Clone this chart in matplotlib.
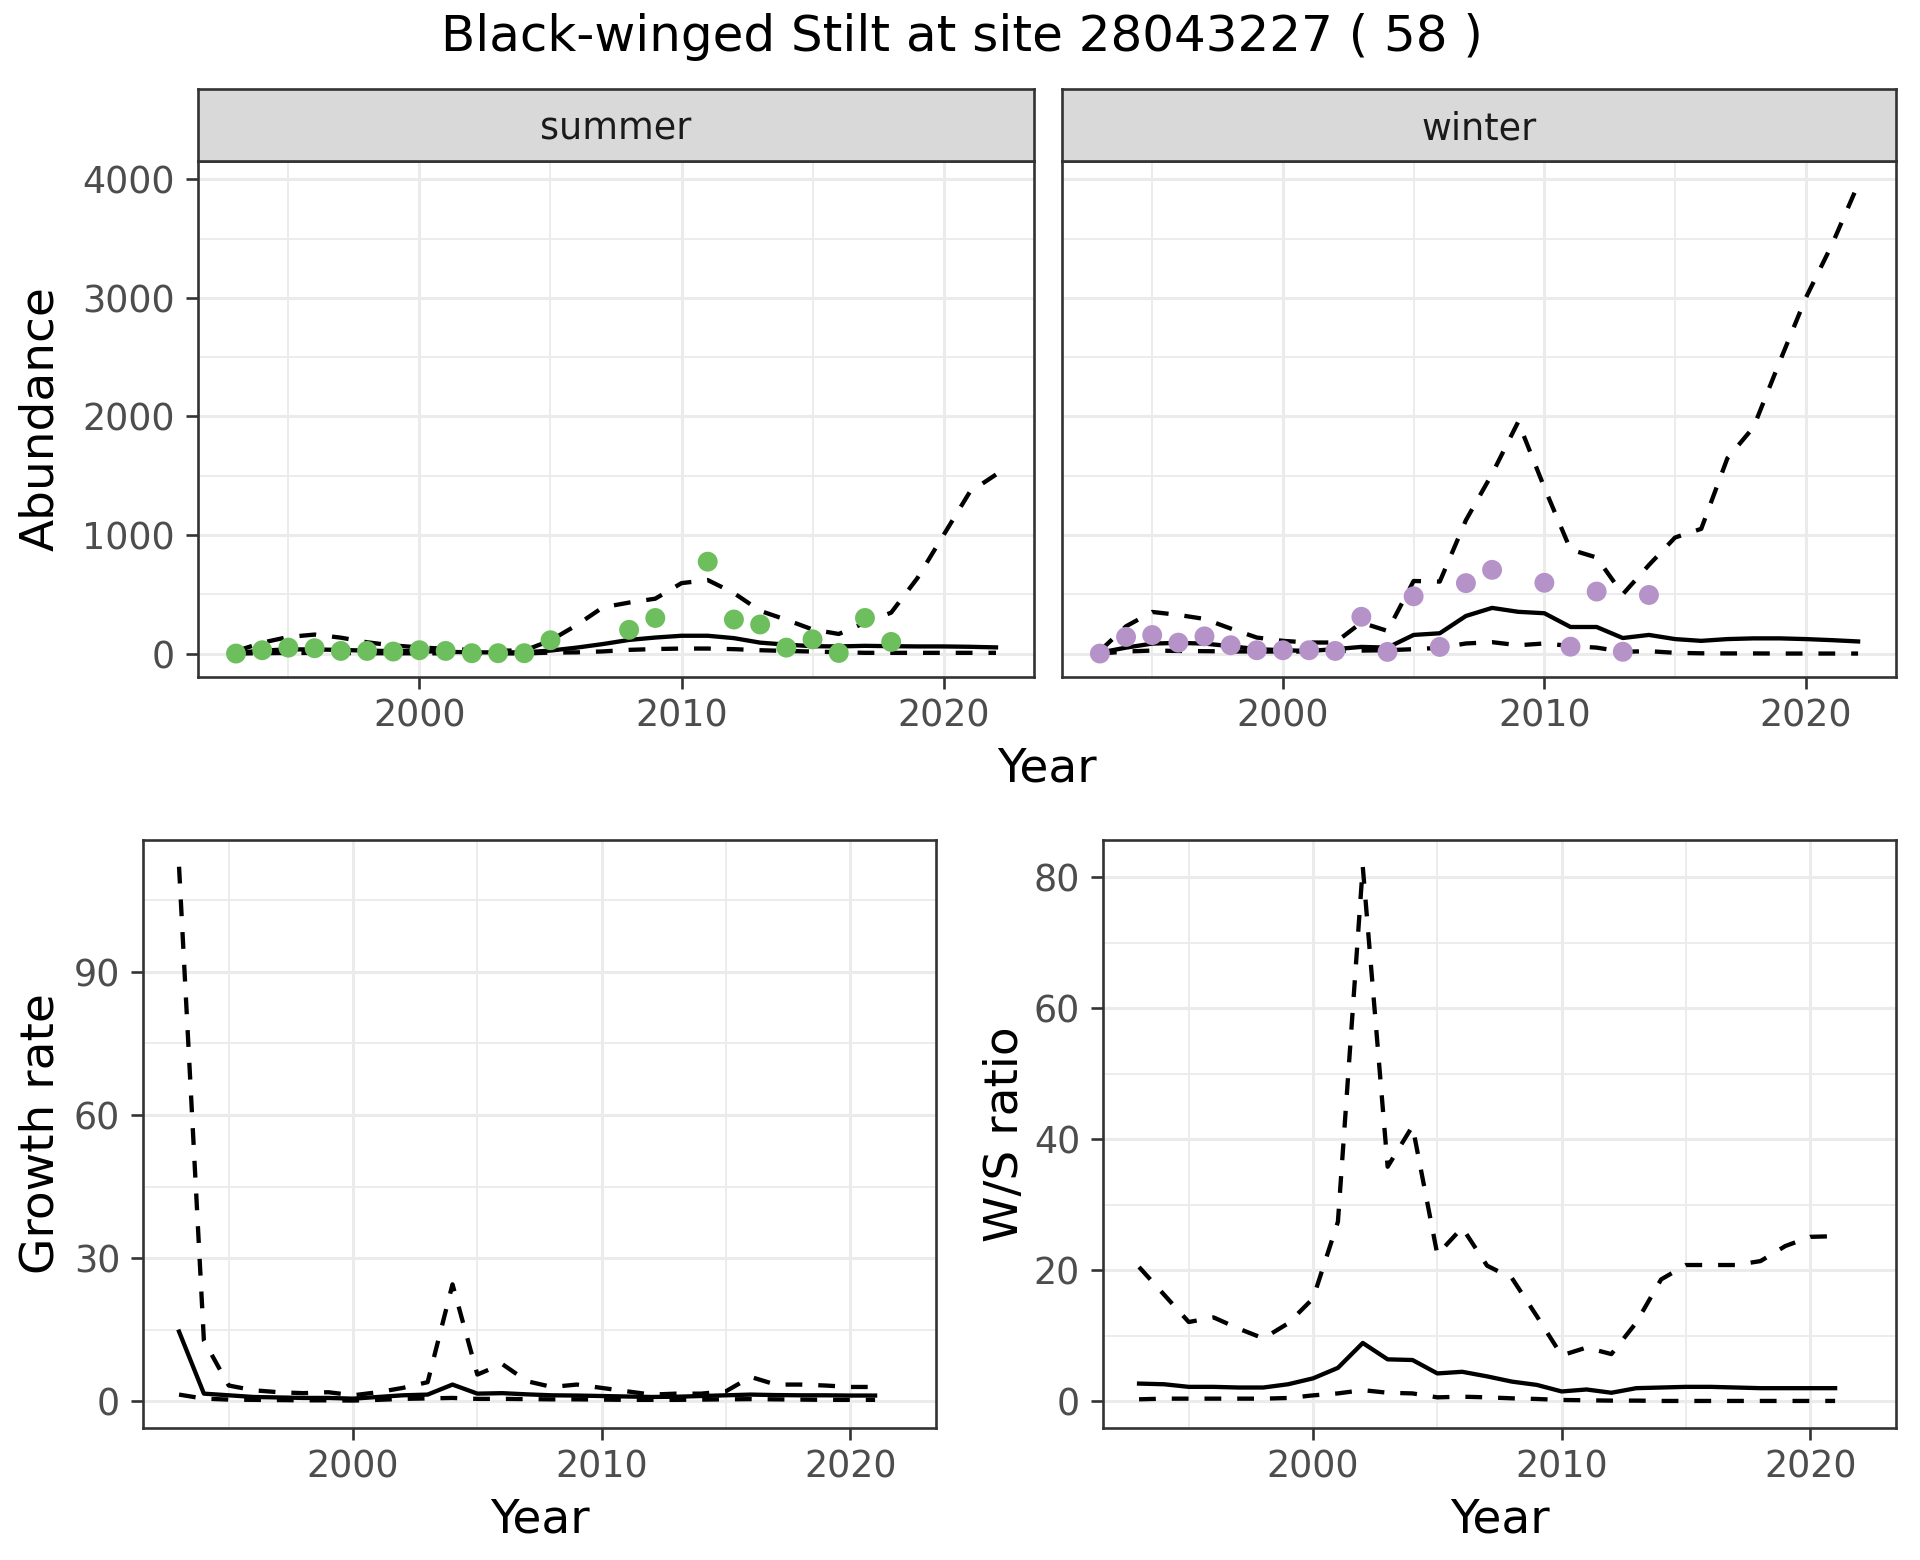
import numpy as np
import matplotlib
matplotlib.use("Agg")
import matplotlib.pyplot as plt
from matplotlib.ticker import FixedLocator

# ---------------- data ----------------
title = "Black-winged Stilt at site 28043227 ( 58 )"
facets = ["summer", "winter"]

years_abund = list(range(1993, 2023))
summer_mean = [5, 25, 35, 35, 30, 25, 20, 20, 15, 10, 10, 10, 25, 50, 80, 115, 135, 150,
               150, 130, 92, 75, 62, 60, 65, 62, 60, 60, 57, 52]
summer_upper = [20, 92, 140, 160, 134, 95, 68, 52, 40, 30, 25, 25, 110, 240, 390, 430, 463,
                594, 620, 510, 360, 285, 203, 165, 260, 345, 636, 1000, 1363, 1510]
summer_lower = [0, 3, 5, 5, 4, 3, 2, 2, 2, 1, 1, 1, 8, 10, 18, 31, 38, 42, 42, 37, 28, 22,
                17, 11, 6, 6, 6, 6, 6, 6]
summer_obs_years = [1993, 1994, 1995, 1996, 1997, 1998, 1999, 2000, 2001, 2002, 2003, 2004,
                    2005, 2008, 2009, 2011, 2012, 2013, 2014, 2015, 2016, 2017, 2018]
summer_obs = [0, 28, 50, 45, 22, 22, 17, 28, 22, 3, 3, 3, 112, 200, 300, 775, 287, 245, 50,
              120, 5, 300, 98]

winter_mean = [8, 50, 84, 90, 84, 62, 37, 28, 22, 37, 56, 50, 157, 171, 317, 385, 352, 340,
               224, 224, 131, 157, 122, 107, 122, 128, 128, 122, 113, 102]
winter_upper = [22, 230, 351, 326, 292, 211, 135, 107, 93, 93, 261, 191, 612, 607, 1125, 1515,
                1955, 1400, 877, 810, 500, 747, 979, 1052, 1647, 1909, 2461, 3000, 3449, 3957]
winter_lower = [0, 17, 25, 22, 20, 18, 17, 17, 17, 20, 25, 28, 37, 48, 85, 96, 70, 85, 64, 50,
                15, 20, 6, 2, 1, 1, 0, 0, 0, 0]
winter_obs_years = [1993, 1994, 1995, 1996, 1997, 1998, 1999, 2000, 2001, 2002, 2003, 2004,
                    2005, 2006, 2007, 2008, 2010, 2011, 2012, 2013, 2014]
winter_obs = [0, 140, 156, 92, 145, 70, 28, 28, 28, 22, 310, 14, 483, 56, 594, 706, 597, 58,
              523, 15, 494]

years_rate = list(range(1993, 2022))
growth_mean = [14.6, 1.6, 1.25, 0.9, 0.8, 0.7, 0.7, 0.55, 0.9, 1.25, 1.4, 3.5, 1.6, 1.7, 1.45,
               1.25, 1.2, 1.1, 1.0, 0.9, 0.95, 1.1, 1.25, 1.4, 1.3, 1.25, 1.25, 1.2, 1.2]
growth_upper = [112, 12.7, 3.3, 2.3, 1.9, 1.7, 1.9, 1.25, 1.9, 2.8, 4.0, 24.5, 5.6, 7.8, 4.2,
                3.0, 3.5, 2.8, 2.1, 1.4, 1.6, 1.6, 2.1, 5.1, 3.5, 3.5, 3.3, 3.0, 3.0]
growth_lower = [1.4, 0.55, 0.35, 0.3, 0.25, 0.2, 0.2, 0.15, 0.3, 0.5, 0.6, 0.7, 0.5, 0.5, 0.45,
                0.4, 0.4, 0.35, 0.3, 0.3, 0.3, 0.35, 0.4, 0.45, 0.4, 0.35, 0.3, 0.3, 0.3]

ws_mean = [2.7, 2.6, 2.2, 2.2, 2.1, 2.1, 2.6, 3.5, 5.1, 8.9, 6.4, 6.3, 4.25, 4.5, 3.8, 3.0, 2.5,
           1.5, 1.8, 1.3, 2.0, 2.1, 2.2, 2.2, 2.1, 2.0, 2.0, 2.0, 2.0]
ws_upper = [20.5, 16.3, 12.1, 12.8, 11.1, 9.6, 11.9, 15.7, 27.4, 81.6, 35.8, 42.0, 22.4, 26.5,
            20.7, 18.8, 13.0, 7.0, 8.2, 7.2, 12.0, 18.6, 20.8, 20.8, 20.8, 21.4, 23.7, 25.1, 25.2]
ws_lower = [0.3, 0.4, 0.4, 0.4, 0.4, 0.4, 0.5, 0.9, 1.2, 1.7, 1.3, 1.2, 0.6, 0.7, 0.6, 0.45,
            0.35, 0.2, 0.15, 0.1, 0.1, 0.05, 0.05, 0.05, 0.05, 0.05, 0.05, 0.05, 0.05]

# ---------------- style ----------------
W, H = 1920, 1560
fig = plt.figure(figsize=(W / 100, H / 100), dpi=100)
plt.rcParams["font.family"] = ["DejaVu Sans"]

GREEN = "#6DBE5C"
PURPLE = "#B592C8"
GRID = "#EBEBEB"
BORDER = "#333333"
TICKC = "#4D4D4D"
LW = 3.1
DASH = (0, (3.9, 3.7))
TICK_FS = 26.3
AXT_FS = 33.8
STRIP_FS = 26.3


def add_ax(l, t, r, b):
    return fig.add_axes([l / W, 1 - b / H, (r - l) / W, (b - t) / H])


def expand(lo, hi, f=0.05):
    d = (hi - lo) * f
    return lo - d, hi + d


def style(ax, xmaj, xmin, ymaj, ymin, show_y=True):
    ax.set_axisbelow(True)
    ax.xaxis.set_major_locator(FixedLocator(xmaj))
    ax.xaxis.set_minor_locator(FixedLocator(xmin))
    ax.yaxis.set_major_locator(FixedLocator(ymaj))
    ax.yaxis.set_minor_locator(FixedLocator(ymin))
    ax.grid(which="major", color=GRID, lw=2.2)
    ax.grid(which="minor", color=GRID, lw=1.3)
    for s in ax.spines.values():
        s.set_color(BORDER)
        s.set_linewidth(1.9)
    ax.tick_params(which="major", length=8.5, width=1.9, color=BORDER,
                   labelsize=TICK_FS, labelcolor=TICKC)
    ax.tick_params(axis="y", pad=8)
    ax.tick_params(axis="x", pad=6)
    ax.tick_params(which="minor", length=0)
    if not show_y:
        ax.tick_params(axis="y", which="major", length=0, labelleft=False)


# ---------------- top facets ----------------
ab_ylim = expand(0, max(max(summer_upper), max(winter_upper)))
ab_xlim = expand(1993, 2022)
panels = [
    (198, 1034, summer_mean, summer_upper, summer_lower, summer_obs_years, summer_obs, GREEN, True),
    (1062, 1896, winter_mean, winter_upper, winter_lower, winter_obs_years, winter_obs, PURPLE, False),
]
for (l, r, m, u, lo, oy, ov, col, showy), name in zip(panels, facets):
    ax = add_ax(l, 161, r, 677)
    ax.plot(years_abund, m, color="black", lw=LW, zorder=2)
    ax.plot(years_abund, u, color="black", lw=LW, ls=DASH, zorder=2)
    ax.plot(years_abund, lo, color="black", lw=LW, ls=DASH, zorder=2)
    ax.scatter(oy, ov, s=205, color=col, edgecolors="none", zorder=3)
    ax.set_xlim(*ab_xlim)
    ax.set_ylim(*ab_ylim)
    style(ax, [2000, 2010, 2020], [1995, 2005, 2015],
          [0, 1000, 2000, 3000, 4000], [500, 1500, 2500, 3500], show_y=showy)
    sax = add_ax(l, 89, r, 161)
    sax.set_facecolor("#D9D9D9")
    sax.set_xticks([])
    sax.set_yticks([])
    for s in sax.spines.values():
        s.set_color(BORDER)
        s.set_linewidth(1.9)
    sax.text(0.5, 0.44, name, ha="center", va="center", fontsize=STRIP_FS,
             color="#1A1A1A", transform=sax.transAxes)

fig.text(41 / W, 1 - 419 / H, "Abundance", rotation=90, ha="center", va="center",
         fontsize=AXT_FS)
fig.text(1047 / W, 1 - 769 / H, "Year", ha="center", va="center", fontsize=AXT_FS)

# ---------------- growth rate ----------------
ax = add_ax(143, 840, 936, 1428)
ax.plot(years_rate, growth_mean, color="black", lw=LW, zorder=2)
ax.plot(years_rate, growth_upper, color="black", lw=LW, ls=DASH, zorder=2)
ax.plot(years_rate, growth_lower, color="black", lw=LW, ls=DASH, zorder=2)
ax.set_xlim(*expand(1993, 2022))
ax.set_ylim(*expand(0, max(growth_upper)))
style(ax, [2000, 2010, 2020], [1995, 2005, 2015], [0, 30, 60, 90], [15, 45, 75, 105])
fig.text(41 / W, 1 - 1134 / H, "Growth rate", rotation=90, ha="center", va="center",
         fontsize=AXT_FS)
fig.text(540 / W, 1 - 1520 / H, "Year", ha="center", va="center", fontsize=AXT_FS)

# ---------------- W/S ratio ----------------
ax = add_ax(1103, 840, 1896, 1428)
ax.plot(years_rate, ws_mean, color="black", lw=LW, zorder=2)
ax.plot(years_rate, ws_upper, color="black", lw=LW, ls=DASH, zorder=2)
ax.plot(years_rate, ws_lower, color="black", lw=LW, ls=DASH, zorder=2)
ax.set_xlim(*expand(1993, 2022))
ax.set_ylim(*expand(0, max(ws_upper)))
style(ax, [2000, 2010, 2020], [1995, 2005, 2015], [0, 20, 40, 60, 80], [10, 30, 50, 70])
fig.text(1005 / W, 1 - 1134 / H, "W/S ratio", rotation=90, ha="center", va="center",
         fontsize=AXT_FS)
fig.text(1500 / W, 1 - 1520 / H, "Year", ha="center", va="center", fontsize=AXT_FS)

# ---------------- title ----------------
fig.text(962 / W, 1 - 37 / H, title, ha="center", va="center", fontsize=36)

fig.savefig("out.png", dpi=100)
